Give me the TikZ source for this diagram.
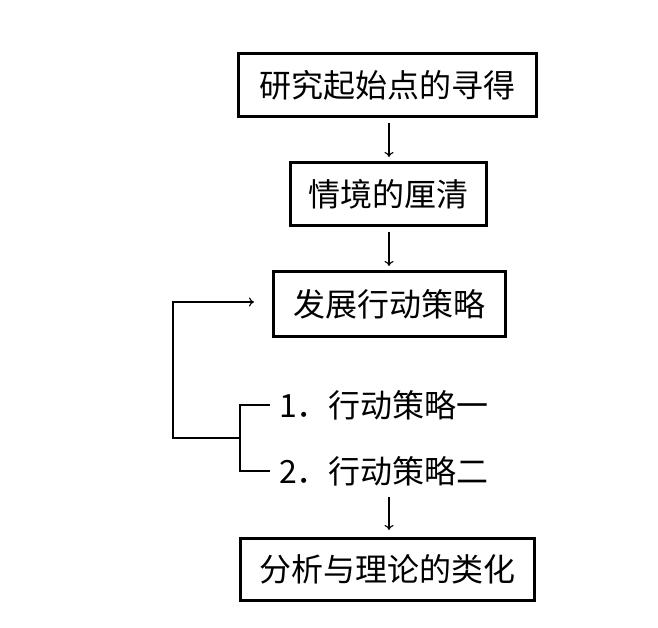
\documentclass[tikz,border=0pt]{standalone}
\usepackage{fontspec}
\newfontfamily\cjk{Noto Sans CJK SC}
\usetikzlibrary{arrows.meta}
\begin{document}
\begin{tikzpicture}[x=1pt,y=-1pt,
  stepbox/.style={draw,line width=3pt,inner sep=0pt,font=\cjk\fontsize{32}{36}\selectfont},
  itemtext/.style={inner xsep=9pt,inner ysep=0pt,anchor=west,font=\cjk\fontsize{32}{36}\selectfont},
  conn/.style={line width=1.1pt},
  arr/.style={conn,-{To[length=5pt,width=9pt]}}]
\useasboundingbox (0,0) rectangle (658,628);
\node[stepbox,minimum width=298pt,minimum height=63pt] (b1) at (387.5,85) {研究起始点的寻得};
\node[stepbox,minimum width=196pt,minimum height=63pt] (b2) at (388.5,194) {情境的厘清};
\node[stepbox,minimum width=232pt,minimum height=65pt] (b3) at (389.5,304) {发展行动策略};
\node[stepbox,minimum width=294pt,minimum height=62pt] (b4) at (387.5,569.5) {分析与理论的类化};
\node[itemtext] (i1) at (270,405) {1．行动策略一};
\node[itemtext] (i2) at (270,471) {2．行动策略二};
\coordinate (ax) at (389,0);
\coordinate (j) at (240,438);
\coordinate (c1) at (173,438);
\coordinate (a3) at (389,497);
\draw[arr,shorten <=5pt,shorten >=4pt] (b1.south -| ax) -- (b2.north -| ax);
\draw[arr,shorten <=5pt,shorten >=4pt] (b2.south -| ax) -- (b3.north -| ax);
\draw[arr,shorten >=7pt] (a3) -- (b4.north -| a3);
\draw[conn] (i1.west) -| (j);
\draw[conn] (i2.west) -| (j);
\draw[arr,shorten >=18pt] (j) -- (c1) |- ([yshift=2pt]b3.west);
\end{tikzpicture}
\end{document}
